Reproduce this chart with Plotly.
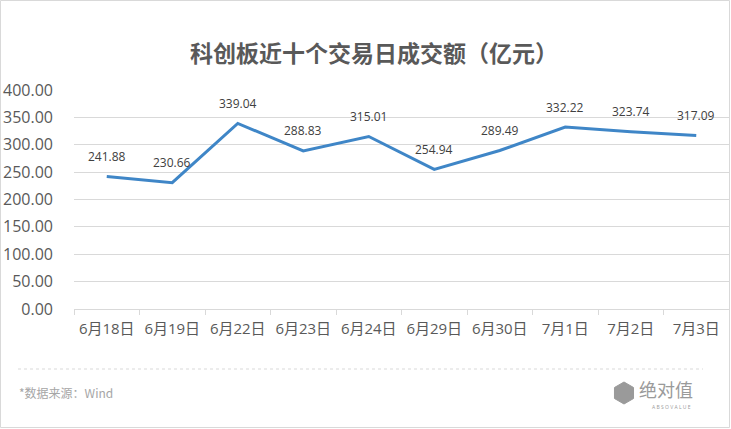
import plotly.graph_objects as go
import math

dates = ["6月18日", "6月19日", "6月22日", "6月23日", "6月24日", "6月29日", "6月30日", "7月1日", "7月2日", "7月3日"]
turnover = [241.88, 230.66, 339.04, 288.83, 315.01, 254.94, 289.49, 332.22, 323.74, 317.09]
title_text = "科创板近十个交易日成交额（亿元）"
source_text = "*数据来源：Wind"

W, H = 731, 429
L, R, T, B = 74, 2, 90, 120
PW, PH = W - L - R, H - T - B

def px(x):
    return (x - L) / PW

def py(y):
    return (H - B - y) / PH

FONT = "Open Sans, Noto Sans CJK SC, sans-serif"

fig = go.Figure()
fig.add_trace(go.Scatter(
    x=dates, y=turnover, mode="lines",
    line=dict(color="#3F86C7", width=3),
    hoverinfo="x+y",
))

annotations = []
for d, v in zip(dates, turnover):
    annotations.append(dict(
        x=d, y=v, text=f"{v:.2f}", showarrow=False, yshift=20,
        font=dict(size=12, color="#404040", family=FONT),
    ))

# title
annotations.append(dict(
    x=px(374), y=py(52), xref="paper", yref="paper", text="<b>" + title_text + "</b>",
    showarrow=False, font=dict(size=23, color="#595959", family="Noto Sans CJK SC"),
    xanchor="center", yanchor="middle",
))
# source
annotations.append(dict(
    x=px(17), y=py(392), xref="paper", yref="paper", text=source_text,
    showarrow=False, font=dict(size=12, color="#A6A6A6", family="Noto Sans CJK SC"),
    xanchor="left", yanchor="middle",
))
# logo text
annotations.append(dict(
    x=px(637), y=py(389), xref="paper", yref="paper", text="绝对值",
    showarrow=False, font=dict(size=18, color="#9A9A9A", family="Noto Sans CJK SC"),
    xanchor="left", yanchor="middle",
))
annotations.append(dict(
    x=px(671), y=py(407), xref="paper", yref="paper", text="A B S O V A L U E",
    showarrow=False, font=dict(size=5, color="#9A9A9A", family=FONT),
    xanchor="center", yanchor="middle",
))

shapes = [
    dict(type="rect", xref="paper", yref="paper", x0=px(0.5), x1=px(W - 1.5), y0=py(H - 1.5), y1=py(0.5),
         line=dict(color="#D9D9D9", width=1), fillcolor="rgba(0,0,0,0)", layer="below"),
    dict(type="line", xref="paper", yref="paper", x0=px(18), x1=px(703), y0=py(369), y1=py(369),
         line=dict(color="#D9D9D9", width=1, dash="dot")),
]
cx, cy, r = 624, 393, 11
pts = []
for k in range(6):
    a = math.radians(90 + 60 * k)
    pts.append((px(cx + r * math.cos(a)), py(cy - r * math.sin(a))))
path = "M " + " L ".join(f"{x},{y}" for x, y in pts) + " Z"
shapes.append(dict(type="path", xref="paper", yref="paper", path=path,
                   fillcolor="#9A9A9A", line=dict(color="#9A9A9A", width=1)))

fig.update_layout(
    width=W, height=H,
    margin=dict(l=L, r=R, t=T, b=B),
    paper_bgcolor="white", plot_bgcolor="white",
    showlegend=False,
    annotations=annotations,
    shapes=shapes,
    font=dict(family=FONT),
)
fig.update_xaxes(
    type="category", showline=True, linecolor="#D9D9D9", linewidth=1,
    ticks="outside", tickson="boundaries", ticklen=5, tickcolor="#D9D9D9",
    showgrid=False, tickfont=dict(size=15, color="#595959", family=FONT),
    ticklabelstandoff=6, range=[-0.5, 9.5],
)
fig.update_yaxes(
    range=[0, 400], dtick=50, tickformat=".2f", showgrid=True, gridcolor="#D9D9D9",
    zeroline=False, showline=False, ticks="",
    tickfont=dict(size=16, color="#595959", family=FONT), ticklabelstandoff=20,
)

fig.write_html("out.html")
